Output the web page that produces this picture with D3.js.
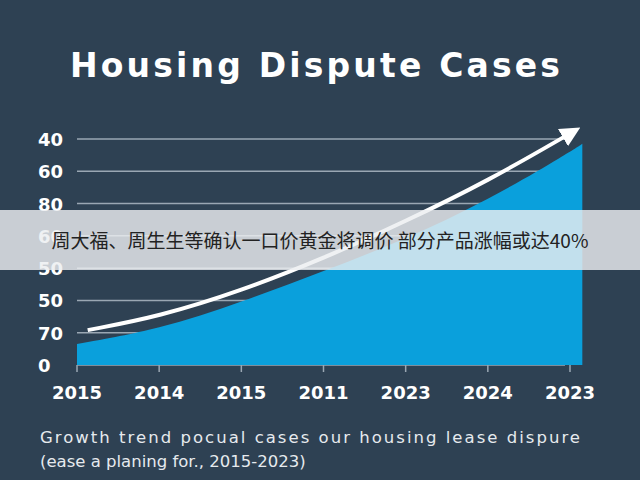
<!DOCTYPE html><html><head><meta charset="utf-8"><script src="https://cdn.jsdelivr.net/npm/d3@7"></script>
<style>body{margin:0;background:#2e4153}svg{display:block}</style></head><body><svg width="640" height="480"></svg>
<script>
const yLabels=["0","70","50","50","60","80","60","40"];
const xLabels=["2015","2014","2015","2011","2023","2024","2023"];
const areaX=[0,1,2,3,4,5,6,6.15];
const areaV=[0.65,1.1,1.95,2.9,3.9,5.1,6.6,6.85];
const arrowX=[0.13,1,2,3,4,5,6.02];
const arrowV=[1.08,1.5,2.3,3.3,4.45,5.7,7.2];
const svg=d3.select("svg");
const x=d3.scaleLinear().domain([0,6]).range([77,570]);
const y=d3.scaleLinear().domain([0,7]).range([365,139]);
const F="DejaVu Sans";
svg.append("rect").attr("width",640).attr("height",480).attr("fill","#2e4153");
svg.append("text").attr("x",315).attr("y",77).attr("text-anchor","middle").attr("fill","#fff")
 .attr("font-family",F).attr("font-weight",700).attr("font-size",33).attr("textLength",490).text("Housing Dispute Cases");
const g=svg.append("g");
yLabels.forEach((l,i)=>{g.append("line").attr("x1",77).attr("x2",565).attr("y1",y(i)).attr("y2",y(i)).attr("stroke","#9aa7b3").attr("stroke-width",1.5);
 g.append("text").attr("x",38).attr("y",y(i)+7).attr("fill","#fff").attr("font-family",F).attr("font-weight",700).attr("font-size",18).text(l);});
g.append("path").datum(areaX.map((d,i)=>[d,areaV[i]])).attr("fill","#0aa0dc")
 .attr("d",d3.area().x(d=>x(d[0])).y0(y(0)).y1(d=>y(d[1])).curve(d3.curveBasis));
svg.append("defs").append("marker").attr("id","ah").attr("viewBox","0 0 10 10").attr("refX",5).attr("refY",5)
 .attr("markerWidth",5).attr("markerHeight",5).attr("orient","auto").append("path").attr("d","M0,0L10,5L0,10z").attr("fill","#fff");
g.append("path").datum(arrowX.map((d,i)=>[d,arrowV[i]])).attr("fill","none").attr("stroke","#fff").attr("stroke-width",4)
 .attr("marker-end","url(#ah)").attr("d",d3.line().x(d=>x(d[0])).y(d=>y(d[1])).curve(d3.curveBasis));
xLabels.forEach((l,i)=>{g.append("line").attr("x1",x(i)).attr("x2",x(i)).attr("y1",365).attr("y2",372).attr("stroke","#9aa7b3").attr("stroke-width",1.5);
 g.append("text").attr("x",x(i)).attr("y",399).attr("text-anchor","middle").attr("fill","#fff").attr("font-family",F).attr("font-weight",700).attr("font-size",18).text(l);});
svg.append("text").attr("x",40).attr("y",443).attr("fill","#e6eaee").attr("font-family",F).attr("font-size",16.5).attr("textLength",540).text("Growth trend pocual cases our housing lease dispure");
svg.append("text").attr("x",40).attr("y",467).attr("fill","#e6eaee").attr("font-family",F).attr("font-size",16.5).text("(ease a planing for., 2015-2023)");
svg.append("rect").attr("x",0).attr("y",210).attr("width",640).attr("height",60).attr("fill","rgba(235,238,240,0.82)");
svg.append("text").attr("x",320).attr("y",248).attr("text-anchor","middle").attr("fill","#222").attr("font-family","Noto Sans CJK SC").attr("font-size",19).text("周大福、周生生等确认一口价黄金将调价 部分产品涨幅或达40%");
</script></body></html>
